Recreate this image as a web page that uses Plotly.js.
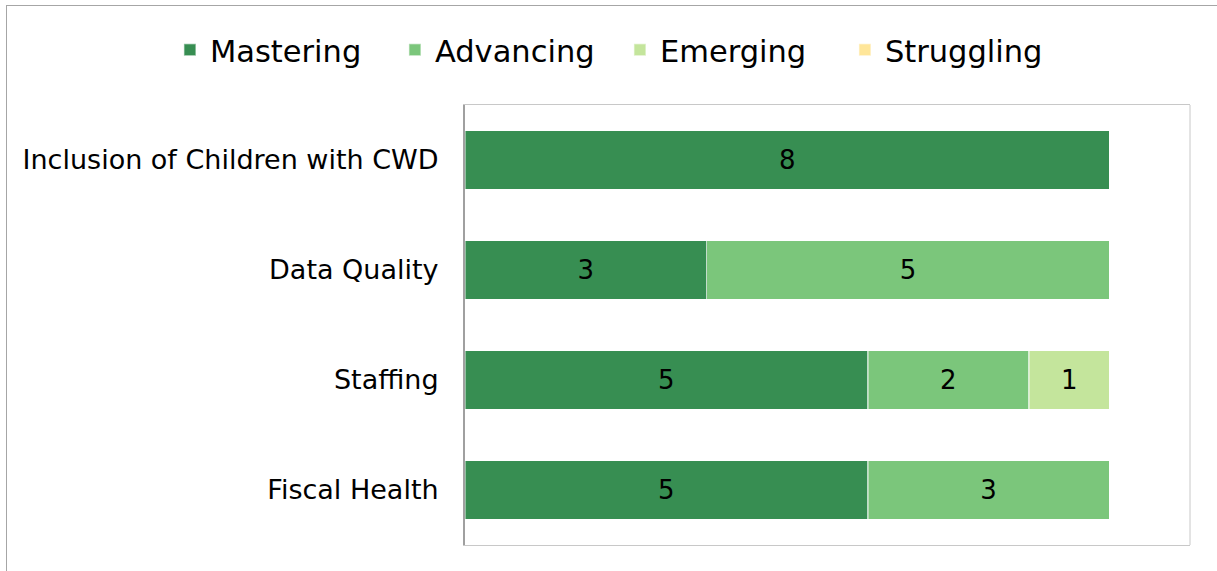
<!DOCTYPE html>
<html>
<head>
<meta charset="utf-8">
<script src="https://cdn.plot.ly/plotly-3.0.1.min.js"></script>
<style>
html,body{margin:0;padding:0;background:#fff;overflow:hidden;}
#frame{position:absolute;left:6px;top:5px;width:1300px;height:700px;border:1px solid #a6a6a6;}
#chart{position:absolute;left:0;top:0;width:1217px;height:571px;}
</style>
</head>
<body>
<div id="frame"></div>
<div id="chart"></div>
<script>
const categories = ["Inclusion of Children with CWD", "Data Quality", "Staffing", "Fiscal Health"];
const seriesNames = ["Mastering", "Advancing", "Emerging", "Struggling"];
const mastering = [8, 3, 5, 5];
const advancing = [null, 5, 2, 3];
const emerging = [null, null, 1, null];
const struggling = [null, null, null, null];
const colors = ["#378e52", "#7bc67b", "#c4e59c", "#ffe699"];

const values = [mastering, advancing, emerging, struggling];
const FONT = "DejaVu Sans, Verdana, sans-serif";

const traces = values.map((v, i) => ({
  type: "bar",
  orientation: "h",
  name: seriesNames[i],
  y: categories,
  x: v,
  marker: {color: colors[i], line: {color: "rgba(255,255,255,0.45)", width: 1.5}},
  texttemplate: "%{x}",
  textposition: "inside",
  insidetextanchor: "middle",
  constraintext: "none",
  textfont: {family: FONT, size: 26, color: "#000"},
  hoverinfo: "skip"
}));

const layout = {
  width: 1217,
  height: 571,
  margin: {l: 465, r: 27, t: 105, b: 26},
  paper_bgcolor: "rgba(0,0,0,0)",
  plot_bgcolor: "#fff",
  barmode: "stack",
  bargap: 0.464,
  showlegend: true,
  legend: {
    orientation: "h",
    x: -0.407, xanchor: "left",
    y: 1.125, yanchor: "middle",
    entrywidth: 180,
    font: {family: FONT, size: 30.5, color: "#000"},
    traceorder: "normal",
    itemclick: false
  },
  xaxis: {
    range: [0, 9],
    showgrid: false, zeroline: false, showticklabels: false, ticks: "",
    showline: true, mirror: true, linecolor: "#c8c8c8", linewidth: 1
  },
  yaxis: {
    autorange: "reversed",
    showgrid: false, zeroline: false, ticks: "",
    showline: true, linecolor: "#a0a0a0", linewidth: 2,
    ticklabelstandoff: 19,
    tickfont: {family: FONT, size: 27, color: "#000"}
  },
  shapes: [{
    type: "line", xref: "paper", yref: "paper",
    x0: 1, x1: 1, y0: 0, y1: 1,
    line: {color: "#c8c8c8", width: 1}
  }]
};

Plotly.newPlot("chart", traces, layout, {displayModeBar: false, staticPlot: true});
</script>
</body>
</html>
